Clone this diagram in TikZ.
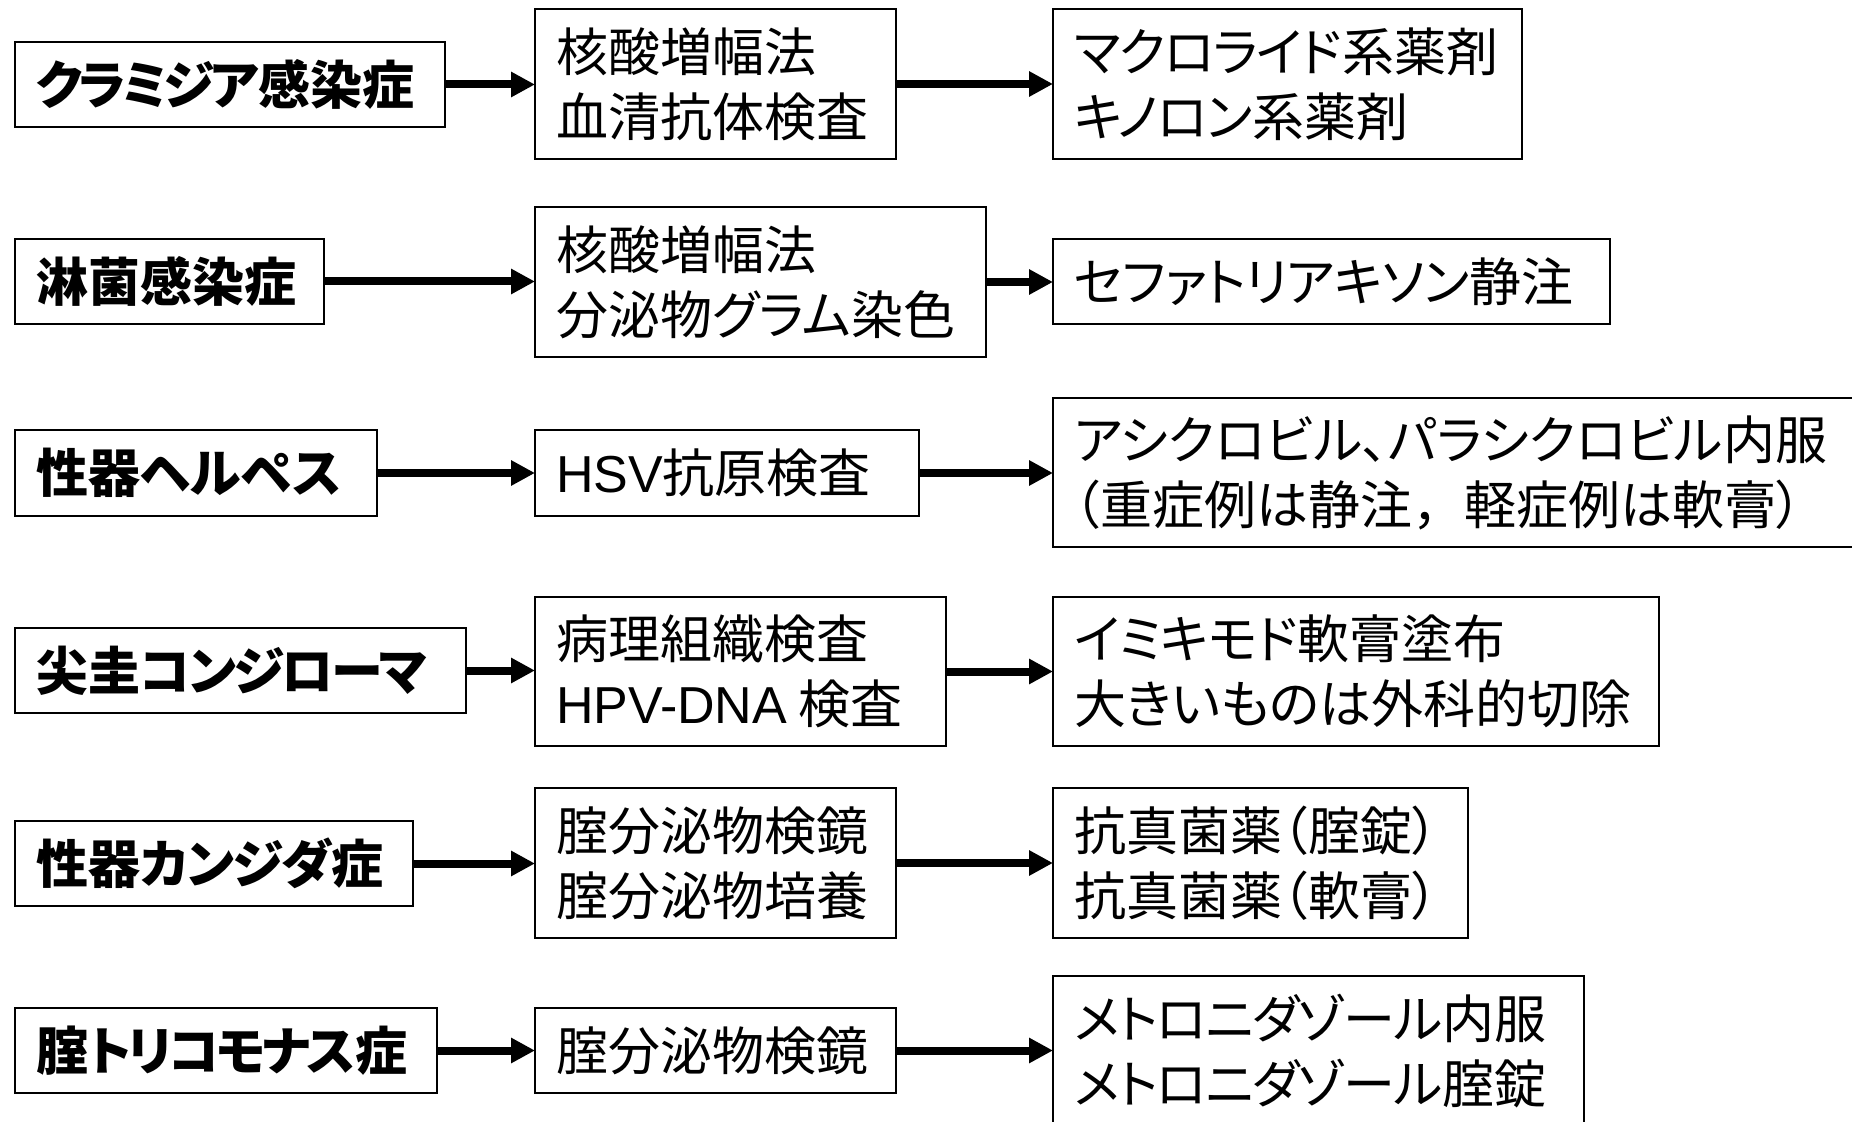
\documentclass[tikz,border=0pt]{standalone}
\usepackage{fontspec}
\setmainfont{Noto Sans CJK JP}[RawFeature={+palt}]
\newfontfamily\fwfont{Noto Sans CJK JP}
\newfontfamily\latinfont{Liberation Sans}
\newcommand\ktn[2]{{\addfontfeature{LetterSpace=#1}#2}}
\usetikzlibrary{arrows.meta}
\tikzset{
  bx/.style 2 args={draw, line width=1pt, anchor=north west, inner xsep=10.5pt, inner ysep=0pt,
    text width=#1, minimum height=#2, align=flush left, outer sep=0pt},
  bold/.style={font=\fontsize{26pt}{32.5pt}\selectfont\bfseries},
  arr/.style={line width=4pt, -{Triangle[length=12pt,width=12pt]}}
}
\begin{document}
\begin{tikzpicture}[x=0.5pt,y=-0.5pt, every node/.style={font=\fontsize{26pt}{32.5pt}\selectfont}]
\useasboundingbox (0,0) rectangle (1852,1122);
% row 1
\node[bx={194pt}{42.5pt}, bold] (A1) at (15,42) {\ktn{-8}{クラミジア}感染症};
\node[bx={159.5pt}{75pt}] (B1) at (535,9) {核酸増幅法\\血清抗体検査};
\node[bx={213.5pt}{75pt}] (C1) at (1053,9) {\ktn{-3}{マクロライド}系薬剤\\\ktn{-3}{キノロン}系薬剤};
% row 2
\node[bx={133.5pt}{42.5pt}, bold] (A2) at (15,239) {淋菌感染症};
\node[bx={204.5pt}{75pt}] (B2) at (535,207) {核酸増幅法\\分泌物グラム染色};
\node[bx={257.5pt}{42.5pt}] (C2) at (1053,239) {\ktn{-2}{セファトリアキソン}静注};
% row 3
\node[bx={160pt}{43pt}, bold] (A3) at (15,430) {性器ヘルペス};
\node[bx={171pt}{43pt}] (B3) at (535,430) {{\latinfont HSV}抗原検査};
\node[bx={389pt}{74.5pt}] (C3) at (1053,398) {アシクロビル、パラシクロビル内服\\（重症例は静注{\fwfont ，}軽症例は軟膏）};
% row 4
\node[bx={204.5pt}{42.5pt}, bold] (A4) at (15,628) {尖圭\ktn{-5}{コンジローマ}};
\node[bx={184.5pt}{74.5pt}] (B4) at (535,597) {病理組織検査\\{\latinfont HPV-DNA}~検査};
\node[bx={282pt}{74.5pt}] (C4) at (1053,597) {\ktn{-2}{イミキモド}軟膏塗布\\大きいものは外科的切除};
% row 5
\node[bx={178pt}{42.5pt}, bold] (A5) at (15,821) {性器\ktn{-3}{カンジダ}症};
\node[bx={159.5pt}{75pt}] (B5) at (535,788) {腟分泌物検鏡\\腟分泌物培養};
\node[bx={186.5pt}{75pt}] (C5) at (1053,788) {抗真菌薬（腟錠）\\抗真菌薬（軟膏）};
% row 6
\node[bx={190pt}{42.5pt}, bold] (A6) at (15,1008) {腟\ktn{-7}{トリコモナス}症};
\node[bx={159.5pt}{42.5pt}] (B6) at (535,1008) {腟分泌物検鏡};
\node[bx={244.5pt}{75pt}] (C6) at (1053,976) {\ktn{-3}{メトロニダゾール}内服\\\ktn{-3}{メトロニダゾール}腟錠};
% arrows
\foreach \r in {1,...,6}{
  \draw[arr] (A\r.east) -- (A\r.east -| B\r.west);
  \draw[arr] (B\r.east) -- (B\r.east -| C\r.west);
}
\end{tikzpicture}
\end{document}
